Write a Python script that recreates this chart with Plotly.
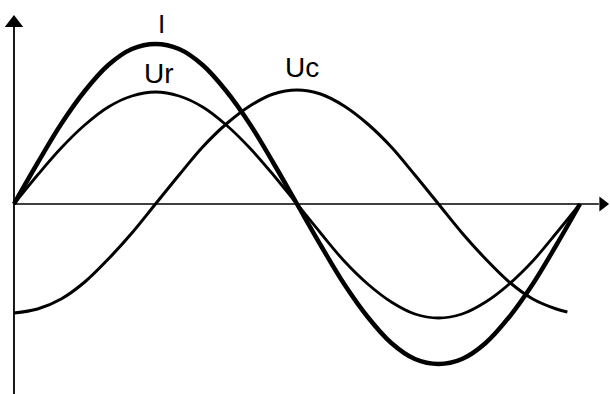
import plotly.graph_objects as go

# phase angle in degrees
phase_deg = [0, 15, 30, 45, 60, 75, 90, 105, 120, 135, 150, 165, 180,
             195, 210, 225, 240, 255, 270, 285, 300, 315, 330, 345, 360]
# current I (thick curve)
current_i = [0, 41, 80, 113, 139, 155, 160, 155, 139, 113, 80, 41, 0,
             -41, -80, -113, -139, -155, -160, -155, -139, -113, -80, -41, 0]
# resistor voltage Ur (in phase with I)
voltage_ur = [0, 29, 56, 79, 97, 108, 112, 108, 97, 79, 56, 29, 0,
              -29, -57, -80, -98, -110, -114, -110, -98, -80, -57, -29, 0]
# capacitor voltage Uc (lags 90 degrees)
phase_uc = [0, 15, 30, 45, 60, 75, 90, 105, 120, 135, 150, 165, 180,
            195, 210, 225, 240, 255, 270, 285, 300, 315, 330, 345, 352]
voltage_uc = [-109, -105, -95, -78, -55, -29, 0, 29, 57, 80, 98, 110, 114,
              110, 98, 80, 57, 29, 0, -29, -55, -78, -95, -105, -108]

labels = ["I", "Ur", "Uc"]
label_x = [94, 92, 183]
label_y = [180, 131, 137]
label_size = [26, 28, 28]

# axis extents (degrees / amplitude units)
x_axis_x = [0, 372]
x_axis_y = [0, 0]
y_axis_x = [0, 0]
y_axis_y = [-200, 178]

fig = go.Figure()
fig.add_trace(go.Scatter(x=phase_uc, y=voltage_uc, mode="lines",
                         line=dict(color="black", width=3, shape="spline"),
                         hoverinfo="skip"))
fig.add_trace(go.Scatter(x=phase_deg, y=voltage_ur, mode="lines",
                         line=dict(color="black", width=2.8, shape="spline"),
                         hoverinfo="skip"))
fig.add_trace(go.Scatter(x=phase_deg, y=current_i, mode="lines",
                         line=dict(color="black", width=4.5, shape="spline"),
                         hoverinfo="skip"))

# axes
fig.add_trace(go.Scatter(x=x_axis_x, y=x_axis_y, mode="lines",
                         line=dict(color="black", width=1.6), hoverinfo="skip"))
fig.add_trace(go.Scatter(x=y_axis_x, y=y_axis_y, mode="lines",
                         line=dict(color="black", width=1.8), hoverinfo="skip"))
# arrow heads
fig.add_trace(go.Scatter(x=[0], y=[181], mode="markers",
                         marker=dict(symbol="triangle-up", size=16, color="black",
                                     line=dict(width=0)),
                         cliponaxis=False, hoverinfo="skip"))
fig.add_trace(go.Scatter(x=[374.4], y=[0], mode="markers",
                         marker=dict(symbol="triangle-right", size=13, color="black",
                                     line=dict(width=0)),
                         cliponaxis=False, hoverinfo="skip"))

for t, lx, ly, s in zip(labels, label_x, label_y, label_size):
    fig.add_annotation(x=lx, y=ly, text=t, showarrow=False,
                       font=dict(family="Liberation Sans, Arial", size=s, color="black"))

fig.update_layout(
    width=610, height=394,
    margin=dict(l=0, r=0, t=0, b=0),
    paper_bgcolor="white", plot_bgcolor="white",
    showlegend=False,
    hovermode=False,
    xaxis=dict(range=[-8.9, 379.1], visible=False),
    yaxis=dict(range=[-190, 204], visible=False),
)

fig.write_html("out.html",
               config={"displayModeBar": False},
               post_script="document.body.style.margin='0';document.body.style.overflow='hidden';")
